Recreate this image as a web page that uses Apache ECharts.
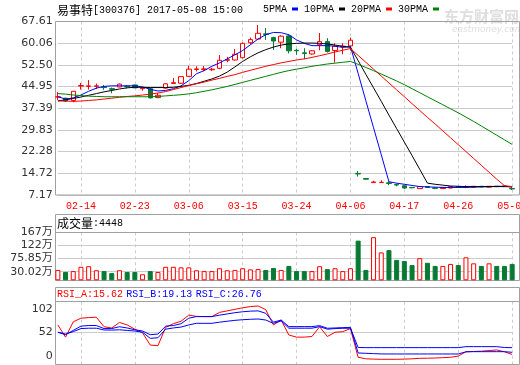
<!DOCTYPE html>
<html><head><meta charset="utf-8">
<script src="https://cdn.jsdelivr.net/npm/echarts@6/dist/echarts.min.js"></script>
<style>html,body{margin:0;padding:0;background:#fff}#c{width:520px;height:365px}</style>
</head><body><div id="c"></div>
<script>
const dates = ['02-09','02-10','02-13','02-14','02-15','02-16','02-17','02-20','02-21','02-22',
 '02-23','02-24','02-27','02-28','03-01','03-02','03-03','03-06','03-07','03-08',
 '03-09','03-10','03-13','03-14','03-15','03-16','03-17','03-20','03-21','03-22',
 '03-23','03-24','03-27','03-28','03-29','03-30','03-31','04-05','04-06','04-07',
 '04-10','04-11','04-12','04-13','04-14','04-17','04-18','04-19','04-20','04-21',
 '04-24','04-25','04-26','04-27','04-28','05-02','05-03','05-04','05-05','05-08'];
const open = [41.3,40.9,40.1,45.1,45.0,45.0,44.8,44.2,44.8,45.1, 45.5,44.2,44.2,41.1,44.4,46.0,46.1,48.5,50.9,50.9,
 50.8,51.3,54.1,54.2,55.0,60.2,61.5,63.3,62.0,60.4, 62.6,57.6,56.7,56.3,59.5,60.6,57.5,58.8,59.1,14.7,
 12.9,11.5,11.5,11.4,10.8,10.4,9.8,9.4,10.1,9.6, 9.4,9.6,10.1,10.0,9.9,10.2,9.9,10.2,10.3,9.4];
const close = [41.4,39.9,43.3,45.3,45.2,45.2,44.6,44.0,45.8,44.9, 44.5,44.4,41.0,41.9,45.9,46.3,48.4,51.0,51.1,51.1,
 51.0,54.1,54.3,56.2,60.0,61.3,63.5,63.1,60.8,62.5, 57.4,57.4,56.5,57.4,60.6,57.2,59.0,59.0,61.1,14.5,
 12.7,11.7,11.6,11.2,10.65,9.6,9.7,10.1,9.8,9.5, 9.8,10.1,9.9,10.1,10.2,10.0,10.2,10.1,10.1,9.3];
const low = [40.3,39.6,39.5,43.9,43.9,44.1,43.8,42.6,44.7,44.3, 44.4,43.5,40.8,40.9,44.2,45.9,45.9,48.3,50.2,50.3,
 50.4,51.0,53.4,54.0,54.8,59.6,61.3,61.2,57.7,58.3, 56.5,56.0,54.5,56.1,57.6,56.8,53.3,56.2,57.5,13.6,
 12.5,11.4,11.5,10.6,10.2,9.3,9.5,9.3,9.6,9.2, 9.3,9.5,9.7,9.8,9.8,9.9,9.8,9.9,10.0,8.9];
const high = [43.0,41.0,43.4,46.2,47.2,46.0,45.5,44.6,46.0,45.5, 45.6,44.7,44.5,42.7,46.1,47.9,48.6,52.2,52.0,52.1,
 51.5,55.9,55.3,58.0,60.3,62.0,66.4,65.3,62.3,62.8, 63.2,58.1,58.3,57.6,63.6,61.8,60.0,60.0,62.0,15.5,
 13.0,12.1,12.3,11.9,11.2,10.7,9.9,10.2,10.3,9.9, 9.9,10.2,10.2,10.5,10.3,10.3,10.3,10.3,10.4,9.8];
const volume = [36,29,32,47,49,35,32,25,35,29, 29,21,32,29,47,47,45,45,35,32,
 32,42,35,36,42,38,39,36,43,36, 50,32,32,32,49,39,42,32,42,138,
 36,150,97,105,71,67,53,77,61,50, 50,57,53,80,59,50,59,50,50,57];
const ma5 = [41.4,40.6,41.0,42.0,43.3,44.4,45.0,45.2,45.2,45.2, 45.2,44.8,44.0,43.4,43.6,44.2,45.2,47.0,49.4,50.5,
 52.0,53.2,54.6,56.0,57.5,59.5,61.5,63.0,63.8,63.7, 63.0,61.2,60.0,59.2,59.2,59.2,59.0,58.6,58.9,49.5,
 40.0,30.6,21.2,11.8,11.3,10.9,10.5,10.1,10.0,9.9, 9.8,9.8,9.8,9.8,9.9,10.0,10.1,10.2,10.2,10.0];
const ma10 = [40.0,40.3,40.8,41.3,41.9,42.5,43.1,43.6,44.1,44.5, 44.7,44.7,44.6,44.6,44.6,44.7,45.0,45.4,46.0,46.8,
 47.6,48.6,50.0,51.8,53.7,55.3,56.7,57.8,58.7,59.4, 59.8,60.0,60.1,60.1,60.0,59.8,59.4,59.0,58.6,54.0,
 49.2,44.5,39.8,35.0,30.3,25.6,20.9,16.1,11.3,10.9, 10.6,10.3,10.2,10.1,10.1,10.1,10.1,10.1,10.1,10.0];
const ma20 = [39.9,39.9,39.8,39.9,40.1,40.3,40.6,40.9,41.2,41.5, 41.7,42.0,42.3,42.7,43.2,43.9,44.6,45.3,45.9,46.5,
 47.2,47.8,48.5,49.1,49.9,50.6,51.3,52.0,52.6,53.2, 53.7,54.2,54.6,55.1,55.7,56.3,57.0,57.6,58.2,55.8,
 53.4,51.0,48.6,46.2,43.8,41.4,39.0,36.6,34.2,31.9, 29.5,27.1,24.7,22.3,19.9,17.5,15.1,12.7,10.4,10.1];
const ma30 = [42.5,42.3,42.0,41.8,41.6,41.5,41.4,41.4,41.4,41.4, 41.4,41.4,41.4,41.5,41.7,41.9,42.1,42.4,42.8,43.3,
 43.8,44.4,45.0,45.7,46.4,47.1,47.8,48.5,49.2,49.9, 50.5,51.0,51.5,52.0,52.4,52.8,53.1,53.4,53.7,52.7,
 51.6,50.5,49.3,48.1,46.9,45.6,44.2,42.8,41.4,40.0, 38.6,37.2,35.8,34.3,32.8,31.2,29.6,28.0,26.4,24.8];
const rsiA = [64,44,69,75,76,76.6,61,59,68,64, 57,51,31,30,60,66,70,80,78,77.6,
 77.6,84.5,87,89.5,92,94,95,89,64,72, 47.5,44,44,45,61,45,52,53,58,11,
 8.5,8,7.7,7.7,7.7,8,8.5,9.3,9.5,9.8, 10.4,11,13,20,20.5,21,22,23,20,15.62];
const rsiB = [52,48,55,62,63,63,58,58,61,59, 56,54,48,49,62,63,66,75,77.6,77.6,
 77.6,80,82,84,85.5,86.5,87,83,68.5,72, 61.2,61.2,61.2,61.2,62.8,58.5,59,59.5,60,18,
 17.5,17,16.5,16.4,16.4,16.4,16.4,16.4,16.4,16.4, 16.4,16.4,16.4,20,20.2,20.2,20.2,20.2,20.2,19.13];
const rsiC = [52,49,53,58,58.6,58.6,55.7,55.5,56,55, 54,52,42,43,57,59,60.5,64,66.6,66.6,
 66.6,68.5,70,71.5,72.5,73.2,73.7,72,66.6,70.5, 58.6,58.6,58.6,58.6,61.2,57,58,58.5,58.6,27,
 26.8,26.8,26.8,26.8,26.8,26.8,26.8,26.8,26.8,26.8, 26.8,26.8,26.8,28.4,28.4,28.4,28.4,28.4,27,26.76];
const priceTicks = [7.17,14.72,22.28,29.83,37.39,44.95,52.50,60.06,67.61];
const priceTickLabels = ['7.17','14.72','22.28','29.83','37.39','44.95','52.50','60.06','67.61'];
const volTicks = [0,30.02,75.85,122,167];
const volTickLabels = ['0','30.02万','75.85万','122万','167万'];
const rsiTicks = [0,52,102];
const maNames = ['5PMA','10PMA','20PMA','30PMA'];

const chart = echarts.init(document.getElementById('c'), null, {renderer:'canvas'});
const L = 57.85, W = 454.3;
const GREEN = '#087a34', RED = '#ff0000', GRIDC = '#cccccc', FRAME = '#a0a0a0';
const MONO = 'Liberation Mono, DejaVu Sans Mono, monospace';
const CJK = 'Noto Sans CJK SC';
const NUM = 'DejaVu Sans, Noto Sans CJK SC';
const up = i => close[i] >= open[i];
const showIdx = i => (i - 3) % 7 === 0;

function xAx(g, lab) {
  return {type:'category', gridIndex:g, data:dates, boundaryGap:false,
    axisLine:{show:false}, axisTick:{show:false},
    axisLabel:{show:lab, interval:(i)=>showIdx(i), color:RED, fontFamily:MONO, fontSize:10, margin:6},
    splitLine:{show:true, interval:(i)=>showIdx(i), lineStyle:{color:GRIDC, type:[3,3], width:1}}};
}
function lookup(vals, labs){ return v => { let b=0,d=1e9; vals.forEach((t,k)=>{if(Math.abs(t-v)<d){d=Math.abs(t-v);b=k;}}); return labs[b]; }; }

const maColors = ['#0000ff','#000000','#ff0000','#008000'];
const maData = [ma5, ma10, ma20, ma30];
const volData = volume.map((v,i)=>({value:v, itemStyle: up(i)
  ? {color:'#ffffff', borderColor:RED, borderWidth:1}
  : {color:GREEN, borderColor:GREEN, borderWidth:1}}));

const option = {
  animation:false,
  grid:[
    {left:L, width:W, top:21.5, height:173.5, outerBoundsMode:'none', containLabel:false},
    {left:L, width:W, top:232.3, height:48, outerBoundsMode:'none', containLabel:false},
    {left:L, width:W, top:301.7, height:62.3, outerBoundsMode:'none', containLabel:false}
  ],
  legend:{left:263, top:4, icon:'rect', itemWidth:6, itemHeight:3, itemGap:6, align:'right', padding:0,
    textStyle:{fontFamily:MONO, fontSize:10, color:'#000'}, data:maNames, selectedMode:false},
  xAxis:[xAx(0,true), xAx(1,false), xAx(2,false)],
  yAxis:[
    {type:'value', gridIndex:0, min:7.17, max:67.61, axisLine:{show:false},
     axisTick:{show:false, customValues:priceTicks},
     axisLabel:{customValues:priceTicks, formatter:lookup(priceTicks, priceTickLabels), color:'#333', fontFamily:NUM, fontSize:11, margin:5},
     splitLine:{show:true, lineStyle:{color:GRIDC, width:1}}},
    {type:'value', gridIndex:1, min:0, max:167, axisLine:{show:false},
     axisTick:{show:false, customValues:volTicks},
     axisLabel:{customValues:volTicks, formatter:lookup(volTicks, volTickLabels), color:'#333', fontFamily:NUM, fontSize:11, margin:5},
     splitLine:{show:true, lineStyle:{color:GRIDC, width:1}}},
    {type:'value', gridIndex:2, min:0, max:102, axisLine:{show:false},
     axisTick:{show:false, customValues:[52]},
     axisLabel:{customValues:rsiTicks, color:'#333', fontFamily:NUM, fontSize:11, margin:5,
       formatter: v => v >= 100 ? '{t|102}' : (v <= 1 ? '{b|0}' : '{m|52}'),
       rich:{t:{padding:[15,0,0,0], fontFamily:NUM, fontSize:11, color:'#333'},
             b:{padding:[0,0,16,0], fontFamily:NUM, fontSize:11, color:'#333'},
             m:{fontFamily:NUM, fontSize:11, color:'#333'}}},
     splitLine:{show:true, lineStyle:{color:GRIDC, width:1}}}
  ],
  series:[
    {type:'candlestick', xAxisIndex:0, yAxisIndex:0, barWidth:5, clip:false, z:2,
     data: dates.map((d,i)=>[open[i], close[i], low[i], high[i]]),
     itemStyle:{color:'#ffffff', color0:GREEN, borderColor:RED, borderColor0:GREEN, borderWidth:1}},
    ...maNames.map((n,k)=>({name:n, type:'line', xAxisIndex:0, yAxisIndex:0, data:maData[k], symbol:'none',
      color:maColors[k], lineStyle:{color:maColors[k], width:1}, z:3})),
    {type:'bar', xAxisIndex:1, yAxisIndex:1, barWidth:5, clip:false, data:volData},
    {type:'line', xAxisIndex:2, yAxisIndex:2, data:rsiA, symbol:'none', lineStyle:{color:'#ff0000', width:1}, z:3},
    {type:'line', xAxisIndex:2, yAxisIndex:2, data:rsiB, symbol:'none', lineStyle:{color:'#0000ff', width:1}, z:3},
    {type:'line', xAxisIndex:2, yAxisIndex:2, data:rsiC, symbol:'none', lineStyle:{color:'#0000ff', width:1}, z:3}
  ],
  graphic:[
    {type:'text', x:444, y:16, z:0, style:{text:'东方财富网', fontFamily:CJK, fontSize:15, fontWeight:'bold', fill:'#dedede', verticalAlign:'middle'}},
    {type:'text', x:452, y:30, z:0, style:{text:'eastmoney.com', fontFamily:'DejaVu Sans', fontSize:9, fontStyle:'italic', fill:'#dedede', verticalAlign:'middle'}},
    {type:'rect', z:1, shape:{x:55.5, y:21.5, width:464, height:173.5}, style:{fill:'transparent', stroke:FRAME, lineWidth:1}},
    {type:'rect', z:1, shape:{x:55.5, y:214.5, width:464, height:66}, style:{fill:'transparent', stroke:FRAME, lineWidth:1}},
    {type:'line', z:1, shape:{x1:55.5, y1:232.5, x2:519.5, y2:232.5}, style:{stroke:FRAME, lineWidth:1}},
    {type:'rect', z:1, shape:{x:55.5, y:287.5, width:464, height:77}, style:{fill:'transparent', stroke:FRAME, lineWidth:1}},
    {type:'line', z:1, shape:{x1:55.5, y1:301.5, x2:519.5, y2:301.5}, style:{stroke:FRAME, lineWidth:1}},
    {type:'text', x:57, y:10, z:5, style:{text:'{cn|易事特}{en|[300376] 2017-05-08 15:00}', verticalAlign:'middle',
      rich:{cn:{fontFamily:CJK, fontSize:12, fill:'#000'}, en:{fontFamily:MONO, fontSize:10, fill:'#000'}}}},
    {type:'text', x:57, y:223, z:5, style:{text:'{cn|成交量}{en|:4448}', verticalAlign:'middle',
      rich:{cn:{fontFamily:CJK, fontSize:12, fill:'#000'}, en:{fontFamily:MONO, fontSize:10, fill:'#000'}}}},
    {type:'text', x:57, y:294.5, z:5, style:{text:'{a|RSI_A:15.62} {b|RSI_B:19.13} {b|RSI_C:26.76}', verticalAlign:'middle',
      rich:{a:{fontFamily:MONO, fontSize:10, fill:'#ff0000'}, b:{fontFamily:MONO, fontSize:10, fill:'#0000ff'}}}}
  ]
};
chart.setOption(option);
</script></body></html>
